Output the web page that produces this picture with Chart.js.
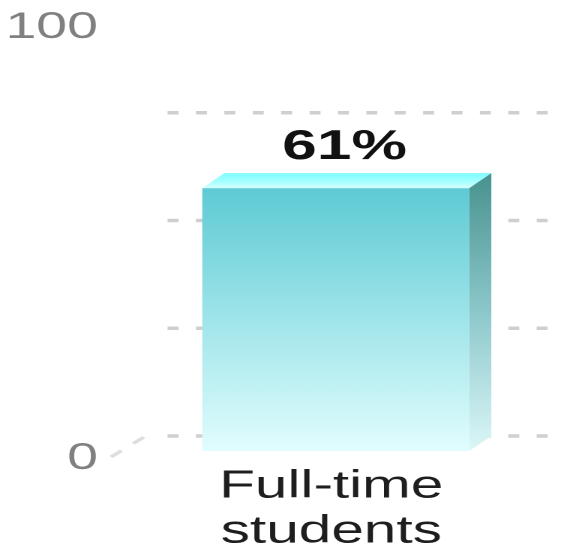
<!DOCTYPE html>
<html><head><meta charset="utf-8">
<script src="https://cdn.jsdelivr.net/npm/chart.js@4/dist/chart.umd.min.js"></script>
<style>
html,body{margin:0;padding:0;background:#fff;overflow:hidden;}
#wrap{position:absolute;left:0;top:0;width:375.33px;height:547px;transform:scaleX(1.5);transform-origin:0 0;}
</style></head><body>
<div id="wrap"><canvas id="c"></canvas></div>
<script>
// ---- data ----
const categories = [["Full-time", "students"]];
const values = [61];
const valueLabels = ["61%"];
const yTicks = [0, 100];
const gridValues = [0, 25, 50, 75];

// ---- 3D depth (chart coordinates, before horizontal stretch) ----
const DX = 14.7, DY = 15;
const FONT = '"Liberation Sans", Arial, sans-serif';

const gridPlugin = {
  id: 'grid3d',
  beforeDatasetsDraw(chart) {
    const ctx = chart.ctx, a = chart.chartArea, ys = chart.scales.y;
    ctx.save();
    // floor edge diagonal
    const y0 = ys.getPixelForValue(0);
    ctx.strokeStyle = '#dedede';
    ctx.lineWidth = 3;
    ctx.setLineDash([9.5, 10.6]);
    ctx.beginPath();
    ctx.moveTo(a.left - 23, y0 + 6);
    ctx.lineTo(a.left - 1, y0 - 14);
    ctx.stroke();
    // back-plane gridlines
    ctx.strokeStyle = '#cfcfcf';
    ctx.lineWidth = 3.5;
    ctx.setLineDash([7.33, 11.6]);
    gridValues.forEach(v => {
      const py = ys.getPixelForValue(v) - DY;
      ctx.beginPath();
      ctx.moveTo(a.left + DX, py);
      ctx.lineTo(a.right + DX, py);
      ctx.stroke();
    });
    ctx.restore();
  },
  afterDatasetsDraw(chart) {
    const ctx = chart.ctx;
    const meta = chart.getDatasetMeta(0);
    meta.data.forEach((bar, i) => {
      const L = bar.x - bar.width / 2, R = bar.x + bar.width / 2;
      const T = bar.y, B = bar.base;
      ctx.save();
      // top face
      let g = ctx.createLinearGradient(0, T - DY, 0, T);
      g.addColorStop(0, '#7dfdff');
      g.addColorStop(0.55, '#a4ffff');
      g.addColorStop(1, '#d6ffff');
      ctx.fillStyle = g;
      ctx.beginPath();
      ctx.moveTo(L, T); ctx.lineTo(R, T); ctx.lineTo(R + DX, T - DY); ctx.lineTo(L + DX, T - DY);
      ctx.closePath(); ctx.fill();
      // right face
      g = ctx.createLinearGradient(0, T - DY, 0, B);
      g.addColorStop(0, '#48928f');
      g.addColorStop(0.5, '#8cc8cb');
      g.addColorStop(1, '#dcf7f8');
      ctx.fillStyle = g;
      ctx.beginPath();
      ctx.moveTo(R, T); ctx.lineTo(R + DX, T - DY); ctx.lineTo(R + DX, B - DY); ctx.lineTo(R, B);
      ctx.closePath(); ctx.fill();
      // value label
      ctx.fillStyle = '#111';
      ctx.font = 'bold 41.5px ' + FONT;
      ctx.textAlign = 'center';
      ctx.textBaseline = 'alphabetic';
      ctx.fillText(valueLabels[i], (L + R + DX) / 2 - 1.5, T - 29);
      ctx.restore();
    });
  }
};

new Chart(document.getElementById('c'), {
  type: 'bar',
  data: {
    labels: categories,
    datasets: [{
      data: values,
      backgroundColor: (c) => {
        const chart = c.chart;
        if (!chart.chartArea) return '#8fdde3';
        const ys = chart.scales.y;
        const top = ys.getPixelForValue(values[c.dataIndex] || 0);
        const bot = ys.getPixelForValue(0);
        const g = chart.ctx.createLinearGradient(0, top, 0, bot);
        g.addColorStop(0, '#5ecad4');
        g.addColorStop(0.5, '#9fe5ea');
        g.addColorStop(1, '#e2fdfe');
        return g;
      },
      borderWidth: 0,
      categoryPercentage: 1,
      barPercentage: 0.7016
    }]
  },
  options: {
    responsive: true,
    maintainAspectRatio: false,
    animation: false,
    devicePixelRatio: 2,
    layout: { padding: { top: 20, right: 24.6, left: 0, bottom: 0 } },
    plugins: { legend: { display: false }, tooltip: { enabled: false } },
    scales: {
      x: {
        grid: { display: false, drawTicks: false },
        border: { display: false },
        ticks: {
          padding: 13,
          labelOffset: -3,
          color: '#1e1e1e',
          font: { family: FONT, size: 39, lineHeight: 1.154 }
        },
        afterFit: s => { s.height = 96; s.paddingLeft = 0; s.paddingRight = 0; }
      },
      y: {
        min: 0, max: 100,
        grid: { display: false, drawTicks: false },
        border: { display: false },
        afterBuildTicks: s => { s.ticks = yTicks.map(v => ({ value: v })); },
        ticks: {
          padding: 31.7,
          labelOffset: 8,
          color: '#808080',
          font: { family: FONT, size: 37, lineHeight: 1 }
        },
        afterFit: s => { s.width = 97; s.paddingTop = 0; s.paddingBottom = 0; }
      }
    }
  },
  plugins: [gridPlugin]
});
</script>
</body></html>
